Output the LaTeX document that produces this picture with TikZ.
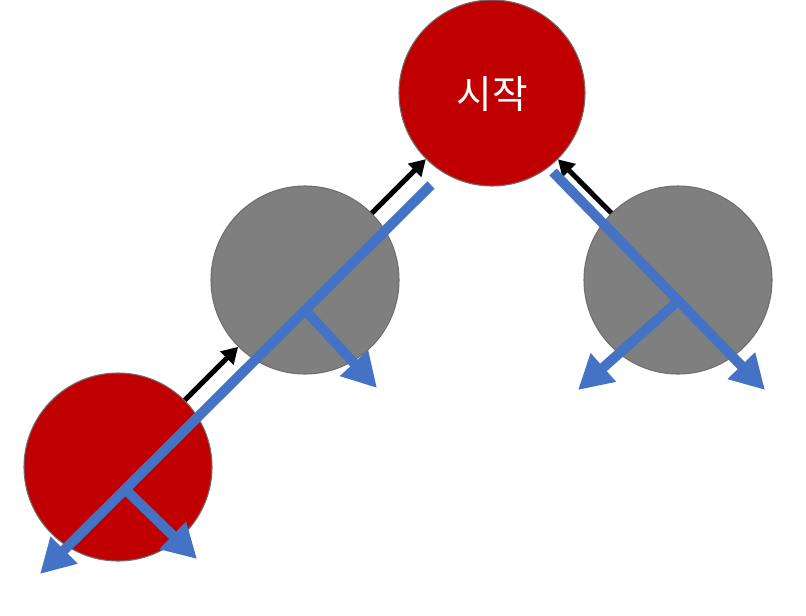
\documentclass[tikz,border=0pt]{standalone}
\usepackage{fontspec}
\newfontfamily\kr{Noto Sans CJK KR}
\usetikzlibrary{arrows.meta}
\definecolor{cred}{HTML}{C00000}
\definecolor{cgray}{HTML}{7F7F7F}
\definecolor{cline}{HTML}{6E6E6E}
\definecolor{cblue}{HTML}{4472C4}
\tikzset{
  redc/.style={circle, fill=cred, draw=cline, line width=0.8pt, minimum size=139.5pt, inner sep=0pt},
  grayc/.style={circle, fill=cgray, draw=cline, line width=0.8pt, minimum size=141pt, inner sep=0pt},
  blk/.style={line width=3.75pt, -{Triangle[length=12pt,width=13.5pt]}},
  blu/.style={cblue, line width=7.5pt, -{Triangle[length=25.5pt,width=27pt]}},
}
\begin{document}
\begin{tikzpicture}[x=0.75pt,y=-0.75pt]
\useasboundingbox (0,0) rectangle (806,615);
\node[redc] (top) at (492,93) {};
\node[text=white, font=\kr\fontsize{29pt}{34pt}\selectfont, inner sep=0pt] (lbl) at (492,94) {시작};
\node[grayc] (g1) at (305,280) {};
\node[grayc] (g2) at (678,280) {};
\node[redc, minimum size=141pt] (r2) at (118,467) {};
% black arrows
\draw[blk] (g1) -- (top);
\draw[blk] (g2) -- (top);
\draw[blk] (r2) -- (g1);
% blue arrows
\coordinate (ls) at (431,185);
\coordinate (le) at (40,574);
\coordinate (j1) at (305,310);
\coordinate (b1) at (377,388);
\coordinate (j2) at (125,489);
\coordinate (b2) at (197,559);
\coordinate (rs) at (553,172);
\coordinate (re) at (765,390);
\coordinate (j3) at (678,301);
\coordinate (b3) at (578,390);
\draw[blu, line cap=butt] (ls) -- (le);
\draw[blu] (j1) -- (b1);
\draw[blu] (j2) -- (b2);
\draw[blu] (rs) -- (re);
\draw[blu] (j3) -- (b3);
\end{tikzpicture}
\end{document}
